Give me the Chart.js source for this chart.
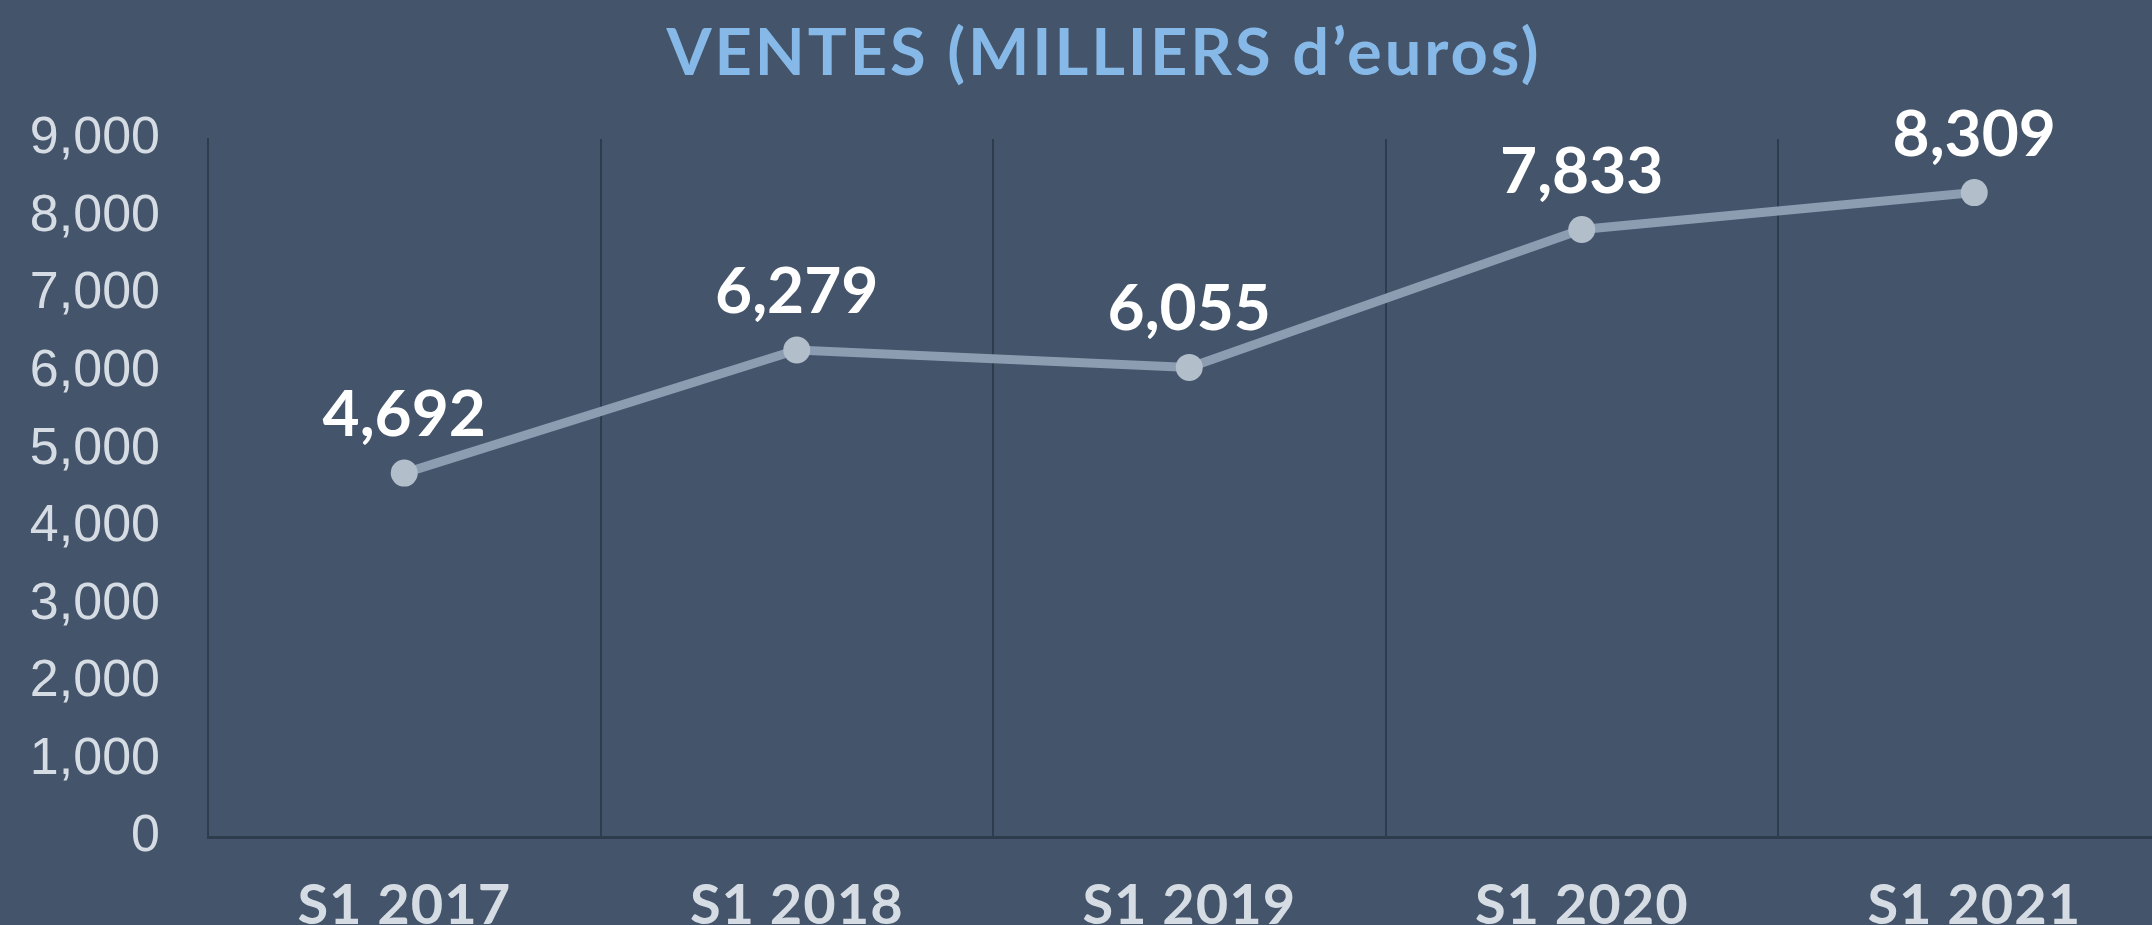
<!DOCTYPE html>
<html>
<head>
<meta charset="utf-8">
<title>Ventes</title>
<script src="https://cdn.jsdelivr.net/npm/chart.js@4.4.1/dist/chart.umd.min.js"></script>
<style>
  html, body { margin: 0; padding: 0; background: #44546a; overflow: hidden; }
  canvas { display: block; }
</style>
</head>
<body>
<canvas id="salesChart" width="2184" height="925"></canvas>
<script>
'use strict';

const categories = ['S1 2017', 'S1 2018', 'S1 2019', 'S1 2020', 'S1 2021'];
const sales      = [4692, 6279, 6055, 7833, 8309];
const yTicks     = [0, 1000, 2000, 3000, 4000, 5000, 6000, 7000, 8000, 9000];

const AXIS_DARK  = '#2f3c4d';
const TICK_LIGHT = '#d6dce4';

// canvas has no letter-spacing option in Chart.js, so wrap the draw call
function withSpacing(obj, method, spacing, dx) {
  if (!obj || obj['_spaced_' + method]) return;
  const orig = obj[method];
  obj[method] = function (...args) {
    const ctx = this.ctx;
    ctx.save();
    ctx.letterSpacing = spacing;
    if (dx) ctx.translate(dx, 0);
    orig.apply(this, args);
    ctx.restore();
  };
  obj['_spaced_' + method] = true;
}

const spacingPlugin = {
  id: 'spacing',
  beforeDraw(chart) {
    withSpacing(chart.scales.x, 'drawLabels', '1px');
    withSpacing(chart.titleBlock, 'draw', '2.9px', 12);
  }
};

const valueLabels = {
  id: 'valueLabels',
  afterDatasetsDraw(chart) {
    const ctx  = chart.ctx;
    const meta = chart.getDatasetMeta(0);
    ctx.save();
    ctx.font = 'bold 64px Lato';
    ctx.fillStyle = '#ffffff';
    ctx.textAlign = 'center';
    ctx.textBaseline = 'alphabetic';
    meta.data.forEach((pt, i) => {
      ctx.fillText(sales[i].toLocaleString('en-US'), pt.x, pt.y - 37);
    });
    ctx.restore();
  }
};

function draw() {
  new Chart(document.getElementById('salesChart'), {
    type: 'line',
    data: {
      labels: categories,
      datasets: [{
        data: sales,
        borderColor: '#8c9db2',
        borderWidth: 9,
        tension: 0,
        pointRadius: 13.5,
        pointBackgroundColor: '#b3becb',
        pointBorderWidth: 0,
        fill: false
      }]
    },
    options: {
      responsive: false,
      animation: false,
      events: [],
      layout: { padding: 0 },
      plugins: {
        legend: { display: false },
        tooltip: { enabled: false },
        title: {
          display: true,
          text: 'VENTES (MILLIERS d\u2019euros)',
          color: '#86b9e8',
          font: { family: 'Lato', size: 65, weight: 'bold' },
          padding: { top: 15, bottom: 46 }
        }
      },
      scales: {
        x: {
          offset: true,
          grid: { display: true, offset: true, color: AXIS_DARK, lineWidth: 2, drawTicks: false },
          border: { display: true, color: AXIS_DARK, width: 3 },
          ticks: {
            color: TICK_LIGHT,
            font: { family: 'Lato', size: 56, weight: 'bold' },
            padding: 35,
            maxRotation: 0
          },
          afterFit: s => { s.height = 88; }
        },
        y: {
          min: 0,
          max: 9000,
          afterBuildTicks: s => { s.ticks = yTicks.map(v => ({ value: v })); },
          grid: { display: false, drawTicks: false },
          border: { display: true, color: AXIS_DARK, width: 2 },
          ticks: {
            color: TICK_LIGHT,
            font: { family: 'Liberation Sans', size: 52 },
            padding: 48
          },
          afterFit: s => { s.width = 208; }
        }
      }
    },
    plugins: [spacingPlugin, valueLabels]
  });
}

Promise.all([
  document.fonts.load('bold 64px Lato'),
  document.fonts.load('52px "Liberation Sans"')
]).then(draw, draw);
</script>
</body>
</html>
